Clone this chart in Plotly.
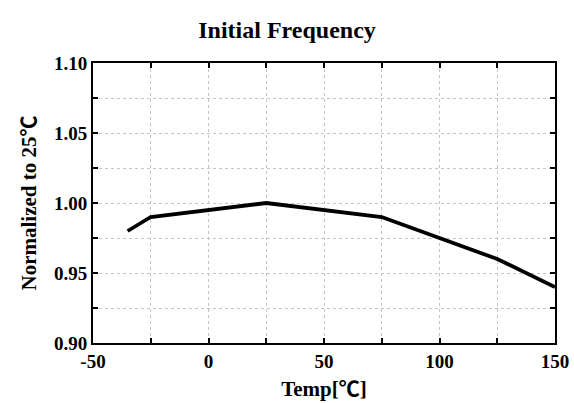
import plotly.graph_objects as go

temps = [-35, -25, 25, 75, 125, 150]
normalized = [0.98, 0.99, 1.00, 0.99, 0.96, 0.94]

x_ticks = [-50, 0, 50, 100, 150]
y_ticks = [0.90, 0.95, 1.00, 1.05, 1.10]

font_family = "Liberation Serif, Times New Roman, serif"
cjk = '<span style="font-family:\'Noto Sans CJK SC\'">℃</span>'
grid_color = "#c4c4c4"

fig = go.Figure()
fig.add_trace(go.Scatter(x=temps, y=normalized, mode="lines",
                         line=dict(color="black", width=3.8),
                         showlegend=False, cliponaxis=False))

grid = dict(showgrid=True, gridcolor=grid_color, griddash="dot", gridwidth=1)

fig.update_layout(
    width=574, height=403,
    margin=dict(l=93, r=19, t=63, b=60, autoexpand=False),
    paper_bgcolor="white", plot_bgcolor="white",
    font=dict(family=font_family, color="black", size=19),
    title=dict(text="<b>Initial Frequency</b>", x=0.5, xanchor="center",
               y=1 - 30 / 403, yanchor="middle",
               font=dict(size=24, family=font_family, color="black")),
    xaxis=dict(range=[-50, 150], tickvals=x_ticks,
               ticktext=[f"<b>{v}</b>" for v in x_ticks],
               ticks="inside", ticklen=5, tickwidth=1.5, tickcolor="black",
               showline=True, linecolor="black", linewidth=2, mirror="ticks",
               minor=dict(dtick=25, tick0=-50, ticks="inside", ticklen=5, tickcolor="black",
                          showgrid=True, gridcolor=grid_color, griddash="dot", gridwidth=1),
               zeroline=False,
               title=dict(text=f"<b>Temp[{cjk}]</b>", font=dict(size=21), standoff=6),
               **grid),
    yaxis=dict(range=[0.90, 1.10], tickvals=y_ticks,
               ticktext=[f"<b>{v:.2f}</b>" for v in y_ticks],
               ticks="inside", ticklen=5, tickwidth=1.5, tickcolor="black",
               showline=True, linecolor="black", linewidth=2, mirror="ticks",
               minor=dict(dtick=0.025, tick0=0.9, ticks="inside", ticklen=5, tickcolor="black",
                          showgrid=True, gridcolor=grid_color, griddash="dot", gridwidth=1),
               zeroline=False,
               title=dict(text=f"<b>Normalized to 25{cjk}</b>", font=dict(size=21), standoff=12),
               **grid),
)

fig.write_html("out.html", config={"displayModeBar": False},
               post_script="document.body.style.margin='0';document.body.style.overflow='hidden';")
